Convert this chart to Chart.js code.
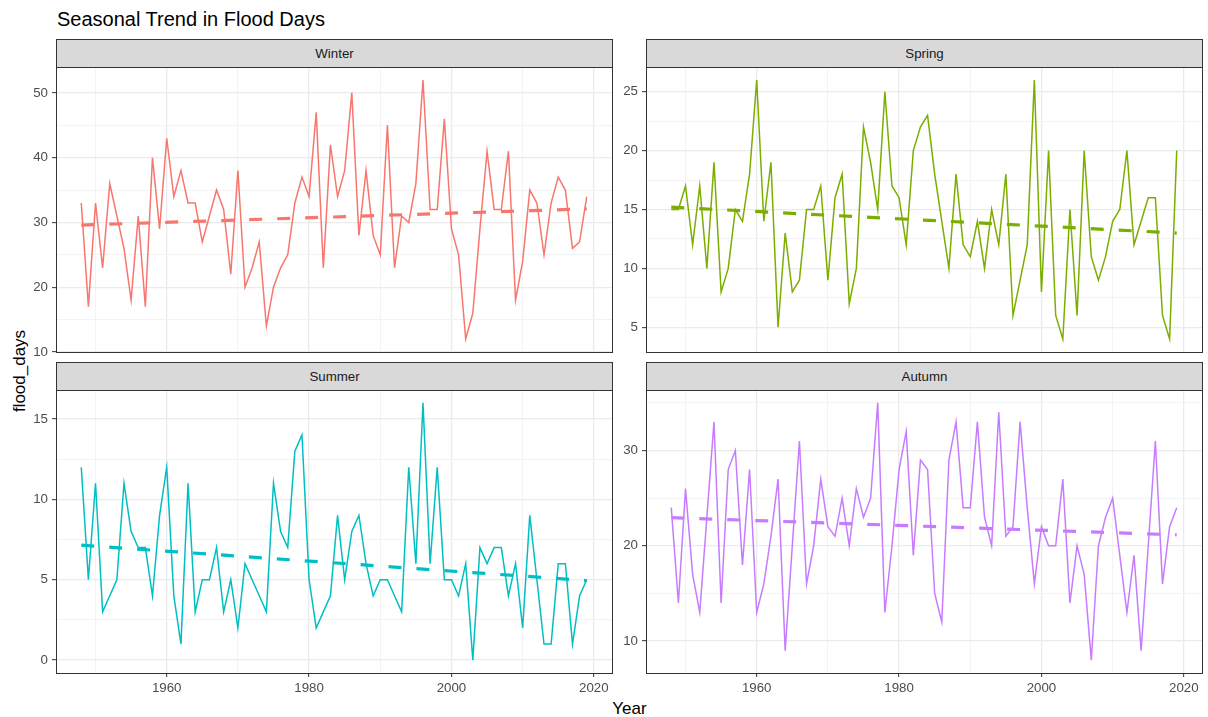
<!DOCTYPE html>
<html>
<head>
<meta charset="utf-8">
<title>Seasonal Trend in Flood Days</title>
<script src="https://cdn.jsdelivr.net/npm/chart.js@4.4.1/dist/chart.umd.min.js"></script>
<style>
    body { margin: 0; background: #fff; font-family: "Liberation Sans", Arial, sans-serif; }
    #page { position: relative; width: 1208px; height: 717px; overflow: hidden; background: #fff; }
    #page canvas { position: absolute; }
    .title { position: absolute; left: 57px; top: 9px; font-size: 20px; line-height: 20px; color: #000; white-space: nowrap; }
    .strip { position: absolute; box-sizing: border-box; border: 1px solid #333; background: #D9D9D9;
             color: #1A1A1A; font-size: 13.3px; text-align: center; line-height: 27px; }
    .xtitle { position: absolute; left: 629.5px; top: 700px; transform: translateX(-50%); font-size: 17px; line-height: 17px; color: #000; }
    .ytitle { position: absolute; left: 18.5px; top: 371px; transform: translate(-50%, -50%) rotate(-90deg);
              font-size: 17px; line-height: 17px; color: #000; white-space: nowrap; }
</style>
</head>
<body>
<div id="page">
    <div class="title">Seasonal Trend in Flood Days</div>
    <div class="xtitle">Year</div>
    <div class="ytitle">flood_days</div>
</div>
<script>
// Años (eje x)
const years = [
    1948, 1949, 1950, 1951, 1952, 1953, 1954, 1955, 1956, 1957,
    1958, 1959, 1960, 1961, 1962, 1963, 1964, 1965, 1966, 1967,
    1968, 1969, 1970, 1971, 1972, 1973, 1974, 1975, 1976, 1977,
    1978, 1979, 1980, 1981, 1982, 1983, 1984, 1985, 1986, 1987,
    1988, 1989, 1990, 1991, 1992, 1993, 1994, 1995, 1996, 1997,
    1998, 1999, 2000, 2001, 2002, 2003, 2004, 2005, 2006, 2007,
    2008, 2009, 2010, 2011, 2012, 2013, 2014, 2015, 2016, 2017,
    2018, 2019
];

// Días de inundación por estación
const winterDays = [
    33, 17, 33, 23, 36, 31, 26, 18, 31, 17,
    40, 29, 43, 34, 38, 33, 33, 27, 31, 35,
    32, 22, 38, 20, 23, 27, 14, 20, 23, 25,
    33, 37, 34, 47, 23, 42, 34, 38, 50, 28,
    38, 28, 25, 45, 23, 31, 30, 36, 52, 32,
    32, 46, 29, 25, 12, 16, 29, 41, 32, 32,
    41, 18, 24, 35, 33, 25, 33, 37, 35, 26,
    27, 34
];
const springDays = [
    15, 15, 17, 12, 17, 10, 19, 8, 10, 15,
    14, 18, 26, 14, 19, 5, 13, 8, 9, 15,
    15, 17, 9, 16, 18, 7, 10, 22, 19, 15,
    25, 17, 16, 12, 20, 22, 23, 18, 14, 10,
    18, 12, 11, 14, 10, 15, 12, 18, 6, 9,
    12, 26, 8, 20, 6, 4, 15, 6, 20, 11,
    9, 11, 14, 15, 20, 12, 14, 16, 16, 6,
    4, 20
];
const summerDays = [
    12, 5, 11, 3, 4, 5, 11, 8, 7, 7,
    4, 9, 12, 4, 1, 11, 3, 5, 5, 7,
    3, 5, 2, 6, 5, 4, 3, 11, 8, 7,
    13, 14, 5, 2, 3, 4, 9, 5, 8, 9,
    6, 4, 5, 5, 4, 3, 12, 6, 16, 6,
    12, 5, 5, 4, 6, 0, 7, 6, 7, 7,
    4, 6, 2, 9, 5, 1, 1, 6, 6, 1,
    4, 5
];
const autumnDays = [
    24, 14, 26, 17, 13, 23, 33, 14, 28, 30,
    18, 28, 13, 16, 21, 27, 9, 20, 31, 16,
    20, 27, 22, 21, 25, 20, 26, 23, 25, 35,
    13, 20, 28, 32, 19, 29, 28, 15, 12, 29,
    33, 24, 24, 33, 23, 20, 34, 21, 22, 33,
    24, 16, 22, 20, 20, 27, 14, 20, 17, 8,
    20, 23, 25, 19, 13, 19, 9, 20, 31, 16,
    22, 24
];

// Tendencia lineal (valor en el primer y último año)
const winterTrend = [29.6, 32.1];
const springTrend = [15.2, 13.0];
const summerTrend = [7.15, 4.95];
const autumnTrend = [22.95, 21.15];

// Etiquetas de los ejes
const yearTicks = [1960, 1980, 2000, 2020];
const winterTicks = [10, 20, 30, 40, 50];
const springTicks = [5, 10, 15, 20, 25];
const summerTicks = [0, 5, 10, 15];
const autumnTicks = [10, 20, 30];

const FONT = '"Liberation Sans", Arial, sans-serif';
Chart.defaults.font.family = FONT;

// Rango con 5% de margen, como ggplot
function expand(values) {
    const lo = Math.min(...values), hi = Math.max(...values);
    const pad = (hi - lo) * 0.05;
    return [lo - pad, hi + pad];
}

// Líneas menores a mitad de camino entre las mayores
function minorTicks(major, min, max) {
    const step = major[1] - major[0];
    const out = [];
    for (let v = major[0] - step / 2; v <= max; v += step) {
        if (v >= min) out.push(v);
    }
    return out;
}

const xRange = expand(years);

// Dibuja el borde del panel
const panelBorder = {
    id: 'panelBorder',
    afterDatasetsDraw(chart) {
        const a = chart.chartArea;
        const ctx = chart.ctx;
        ctx.save();
        ctx.strokeStyle = '#333333';
        ctx.lineWidth = 1;
        ctx.strokeRect(Math.round(a.left) + 0.5, Math.round(a.top) + 0.5,
            Math.round(a.right - a.left), Math.round(a.bottom - a.top));
        ctx.restore();
    }
};

const panels = [
    { name: 'Winter', values: winterDays, trend: winterTrend, ticks: winterTicks, color: '#F8766D', left: 56, top: 67, bottom: 352, xLabels: false },
    { name: 'Spring', values: springDays, trend: springTrend, ticks: springTicks, color: '#7CAE00', left: 646, top: 67, bottom: 352, xLabels: false },
    { name: 'Summer', values: summerDays, trend: summerTrend, ticks: summerTicks, color: '#00BFC4', left: 56, top: 390, bottom: 673, xLabels: true },
    { name: 'Autumn', values: autumnDays, trend: autumnTrend, ticks: autumnTicks, color: '#C77CFF', left: 646, top: 390, bottom: 673, xLabels: true }
];

const page = document.getElementById('page');

panels.forEach(p => {
    const plotW = 556;
    const plotH = p.bottom - p.top;
    // Márgenes amplios para que Chart.js no añada relleno por las etiquetas
    const yAxisWidth = 45, padTop = 14, padRight = 3;
    const xAxisHeight = p.xLabels ? 30 : 14;

    // Franja con el nombre de la estación
    const strip = document.createElement('div');
    strip.className = 'strip';
    strip.textContent = p.name;
    strip.style.left = p.left + 'px';
    strip.style.top = (p.top - 28) + 'px';
    strip.style.width = (plotW + 1) + 'px';
    strip.style.height = '29px';

    // Canvas del panel
    const canvas = document.createElement('canvas');
    canvas.width = yAxisWidth + plotW + padRight;
    canvas.height = padTop + plotH + xAxisHeight;
    canvas.style.width = canvas.width + 'px';
    canvas.style.height = canvas.height + 'px';
    canvas.style.left = (p.left - yAxisWidth) + 'px';
    canvas.style.top = (p.top - padTop) + 'px';
    page.appendChild(canvas);
    page.appendChild(strip);

    const yRange = expand(p.values);
    const yMinor = minorTicks(p.ticks, yRange[0], yRange[1]);
    const yGrid = [...p.ticks, ...yMinor].sort((a, b) => a - b);
    const xMinor = minorTicks(yearTicks, xRange[0], xRange[1]);
    const xGrid = [...yearTicks, ...xMinor].sort((a, b) => a - b);

    const isMajorX = ctx => ctx.tick && yearTicks.includes(ctx.tick.value);
    const isMajorY = ctx => ctx.tick && p.ticks.includes(ctx.tick.value);

    new Chart(canvas.getContext('2d'), {
        type: 'line',
        data: {
            datasets: [
                {
                    data: [
                        { x: years[0], y: p.trend[0] },
                        { x: years[years.length - 1], y: p.trend[1] }
                    ],
                    borderColor: p.color,
                    borderWidth: 3.2,
                    borderDash: [13, 15],
                    pointRadius: 0,
                    order: 0
                },
                {
                    data: years.map((yr, i) => ({ x: yr, y: p.values[i] })),
                    borderColor: p.color,
                    borderWidth: 1.5,
                    pointRadius: 0,
                    tension: 0,
                    order: 1
                }
            ]
        },
        options: {
            responsive: false,
            animation: false,
            events: [],
            layout: {
                autoPadding: false,
                padding: { top: padTop, right: padRight, left: 0, bottom: 0 }
            },
            plugins: {
                legend: { display: false },
                tooltip: { enabled: false }
            },
            scales: {
                x: {
                    type: 'linear',
                    min: xRange[0],
                    max: xRange[1],
                    afterBuildTicks: s => { s.ticks = xGrid.map(v => ({ value: v })); },
                    afterFit: s => { s.height = xAxisHeight; },
                    border: { display: false },
                    grid: {
                        color: ctx => isMajorX(ctx) ? '#EBEBEB' : '#F3F3F3',
                        lineWidth: ctx => isMajorX(ctx) ? 1.3 : 1,
                        drawTicks: p.xLabels,
                        tickLength: 4,
                        tickColor: ctx => isMajorX(ctx) ? '#333333' : 'rgba(0,0,0,0)',
                        tickWidth: 1
                    },
                    ticks: {
                        display: p.xLabels,
                        autoSkip: false,
                        maxRotation: 0,
                        padding: 3,
                        color: '#4D4D4D',
                        font: { size: 13.3, family: FONT },
                        callback: v => yearTicks.includes(v) ? String(v) : ''
                    }
                },
                y: {
                    type: 'linear',
                    min: yRange[0],
                    max: yRange[1],
                    afterBuildTicks: s => { s.ticks = yGrid.map(v => ({ value: v })); },
                    afterFit: s => { s.width = yAxisWidth; },
                    border: { display: false },
                    grid: {
                        color: ctx => isMajorY(ctx) ? '#EBEBEB' : '#F3F3F3',
                        lineWidth: ctx => isMajorY(ctx) ? 1.3 : 1,
                        tickLength: 4,
                        tickColor: ctx => isMajorY(ctx) ? '#333333' : 'rgba(0,0,0,0)',
                        tickWidth: 1
                    },
                    ticks: {
                        autoSkip: false,
                        padding: 4,
                        color: '#4D4D4D',
                        font: { size: 13.3, family: FONT },
                        callback: v => p.ticks.includes(v) ? String(v) : ''
                    }
                }
            }
        },
        plugins: [panelBorder]
    });
});
</script>
</body>
</html>
